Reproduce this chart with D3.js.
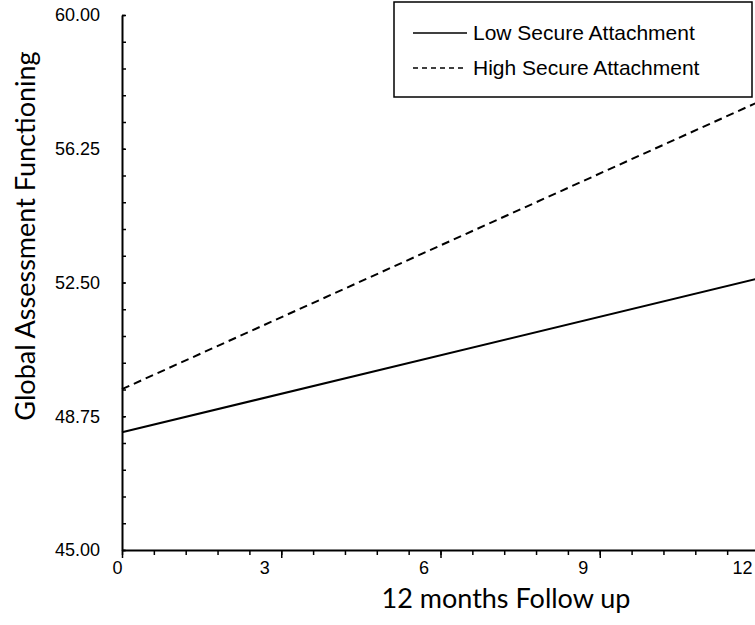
<!DOCTYPE html>
<html>
<head>
<meta charset="utf-8">
<script src="https://cdn.jsdelivr.net/npm/d3@7"></script>
<style>
  body { margin: 0; background: #fff; }
  svg { display: block; }
</style>
</head>
<body>
<svg width="755" height="625"></svg>
<script>
// data
var months = [0, 12];
var lowSecure = [48.30, 52.62];
var highSecure = [49.51, 57.57];
var seriesNames = ["Low Secure Attachment", "High Secure Attachment"];
var xTicks = [0, 3, 6, 9, 12];
var yTicks = [45, 48.75, 52.5, 56.25, 60];
var xTitle = "12 months Follow up";
var yTitle = "Global Assessment Functioning";

// plot box (note: "top" is taken by window.top)
var plotLeft = 122, plotRight = 759, plotTop = 15, plotBottom = 550;

var svg = d3.select("svg");
var xs = d3.scaleLinear().domain([0, 12]).range([plotLeft, plotRight]);
var ys = d3.scaleLinear().domain([45, 60]).range([plotBottom, plotTop]);

// minor ticks x (below only)
svg.append("g")
    .attr("transform", "translate(0," + plotBottom + ")")
    .call(d3.axisBottom(xs).tickValues(d3.range(0, 12.01, 0.6)).tickSize(5).tickFormat(""))
    .call(function(g){ g.select(".domain").remove(); })
    .selectAll("line").attr("stroke-width", 1.5);

// major x axis
var xg = svg.append("g")
    .attr("transform", "translate(0," + plotBottom + ")")
    .call(d3.axisBottom(xs).tickValues(xTicks).tickSizeInner(8).tickSizeOuter(0).tickPadding(3));
xg.select(".domain").attr("stroke-width", 2);
xg.selectAll("line").attr("stroke-width", 1.5);
xg.selectAll("text")
    .attr("font-family", "Liberation Sans, Arial, sans-serif")
    .attr("font-size", 18)
    .attr("fill", "#000")
    .attr("dx", function(d){ return d === 0 ? -5 : -17; });

// minor ticks y (crossing)
svg.append("g")
    .attr("transform", "translate(" + plotLeft + ",0)")
    .call(d3.axisLeft(ys).tickValues(d3.range(45, 60.01, 0.75)).tickSize(4).tickFormat(""))
    .call(function(g){ g.select(".domain").remove(); })
    .selectAll("line").attr("x2", 4).attr("stroke-width", 1.5);

// major y axis
var yg = svg.append("g")
    .attr("transform", "translate(" + plotLeft + ",0)")
    .call(d3.axisLeft(ys).tickValues(yTicks).tickSizeInner(8).tickSizeOuter(0).tickPadding(14).tickFormat(d3.format(".2f")));
yg.select(".domain").attr("stroke-width", 2);
yg.selectAll(".tick line").attr("x2", 3).attr("stroke-width", 1.5);
yg.selectAll("text")
    .attr("font-family", "Liberation Sans, Arial, sans-serif")
    .attr("font-size", 18)
    .attr("fill", "#000");

// lines
var line = d3.line().x(function(d, i){ return xs(months[i]); }).y(function(d){ return ys(d); });
svg.append("path").datum(lowSecure).attr("d", line)
    .attr("fill", "none").attr("stroke", "#000").attr("stroke-width", 2);
svg.append("path").datum(highSecure).attr("d", line)
    .attr("fill", "none").attr("stroke", "#000").attr("stroke-width", 2)
    .attr("stroke-dasharray", "8,5");

// titles
svg.append("text")
    .attr("x", 506).attr("y", 608)
    .attr("text-anchor", "middle")
    .attr("font-family", "Lato, sans-serif").attr("font-size", 27)
    .text(xTitle);
svg.append("text")
    .attr("transform", "translate(35,236) rotate(-90)")
    .attr("text-anchor", "middle")
    .attr("font-family", "Lato, sans-serif").attr("font-size", 27)
    .text(yTitle);

// legend
var lg = svg.append("g");
lg.append("rect").attr("x", 394).attr("y", 2).attr("width", 358).attr("height", 95)
    .attr("fill", "#fff").attr("stroke", "#000").attr("stroke-width", 1.5);
var dashes = [null, "5,4"];
var rowsY = [33, 68];
seriesNames.forEach(function(name, i){
    lg.append("line").attr("x1", 413).attr("x2", 467).attr("y1", rowsY[i]).attr("y2", rowsY[i])
        .attr("stroke", "#000").attr("stroke-width", 1.5)
        .attr("stroke-dasharray", dashes[i]);
    lg.append("text").attr("x", 473).attr("y", rowsY[i] + 7)
        .attr("font-family", "Liberation Sans, Arial, sans-serif").attr("font-size", 21)
        .text(name);
});
</script>
</body>
</html>
